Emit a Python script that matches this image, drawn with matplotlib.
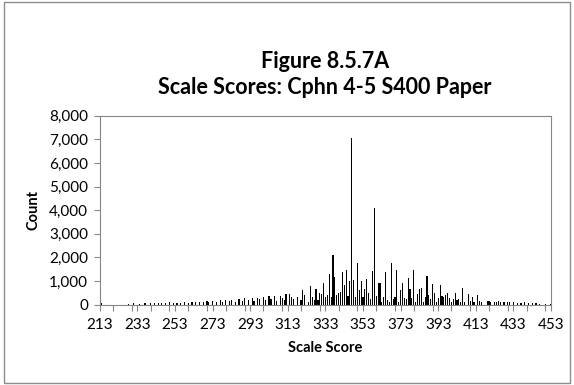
import matplotlib.pyplot as plt
from matplotlib.patches import Rectangle
from matplotlib.ticker import FuncFormatter, MultipleLocator

plt.rcParams['font.family'] = ['Lato', 'DejaVu Sans']

# scale scores with a non-zero count, 10 per row
scores = [213, 214, 228, 231, 234, 237, 240, 242, 244, 246,
          248, 250, 252, 254, 256, 258, 260, 262, 264, 266,
          268, 270, 271, 273, 275, 277, 278, 280, 282, 283,
          285, 287, 289, 290, 292, 294, 295, 297, 298, 300,
          301, 303, 304, 306, 307, 309, 310, 311, 312, 314,
          315, 316, 318, 320, 321, 322, 324, 325, 326, 327,
          328, 329, 330, 331, 332, 333, 334, 335, 336, 337,
          338, 339, 340, 341, 342, 343, 344, 345, 346, 347,
          348, 349, 350, 351, 352, 353, 354, 355, 356, 357,
          358, 359, 360, 361, 362, 363, 364, 365, 366, 367,
          368, 369, 370, 371, 372, 373, 374, 375, 376, 377,
          378, 379, 380, 381, 382, 383, 384, 385, 386, 387,
          388, 389, 390, 391, 392, 393, 394, 395, 396, 397,
          398, 399, 400, 401, 402, 403, 404, 405, 406, 407,
          409, 410, 411, 412, 414, 415, 416, 419, 420, 421,
          423, 424, 425, 426, 428, 430, 431, 433, 435, 437,
          439, 441, 443, 445, 447, 450, 453]
counts = [90, 60, 40, 50, 40, 50, 60, 70, 50, 80,
          70, 90, 60, 80, 70, 100, 80, 110, 90, 120,
          100, 140, 90, 150, 120, 180, 110, 200, 150, 190,
          120, 230, 170, 260, 190, 260, 130, 280, 220, 330,
          200, 360, 240, 380, 170, 360, 290, 200, 450, 430,
          300, 250, 330, 190, 600, 400, 120, 770, 330, 190,
          650, 200, 470, 430, 910, 330, 400, 1300, 330, 2110,
          1160, 400, 510, 540, 1380, 820, 1450, 360, 980, 7050,
          1030, 300, 1770, 610, 980, 330, 640, 1090, 510, 230,
          1420, 4100, 370, 920, 920, 120, 330, 1380, 190, 120,
          1780, 230, 340, 1480, 90, 610, 910, 260, 230, 1140,
          640, 260, 1480, 90, 430, 640, 680, 120, 300, 1200,
          400, 230, 850, 470, 120, 260, 810, 360, 300, 400,
          510, 290, 90, 230, 470, 190, 245, 90, 680, 120,
          450, 150, 330, 120, 410, 160, 90, 170, 160, 90,
          120, 120, 150, 90, 120, 120, 90, 90, 70, 70,
          90, 70, 70, 50, 40, 30, 40]

x_labels = list(range(213, 454, 20))

fig = plt.figure(figsize=(5.74, 3.85), dpi=100)
fig.patches.append(Rectangle((0.007, 0.004), 0.986, 0.99, transform=fig.transFigure,
                             fill=False, edgecolor='#8c8c8c', linewidth=1.0))

ax = fig.add_axes([0.174, 0.209, 0.786, 0.49])
ax.bar(scores, counts, width=0.6, color='black', linewidth=0)

ax.set_xlim(213, 453)
ax.set_ylim(0, 8000)
ax.set_xticks(x_labels)
ax.xaxis.set_minor_locator(MultipleLocator(10))
ax.yaxis.set_major_locator(MultipleLocator(1000))
ax.yaxis.set_major_formatter(FuncFormatter(lambda v, p: f'{int(v):,}'))

for s in ax.spines.values():
    s.set_color('#868686')
ax.tick_params(axis='both', which='both', color='#868686', labelsize=11,
               length=4.5, width=0.8)
ax.tick_params(axis='x', pad=5)
ax.tick_params(axis='y', pad=4)

ax.set_xlabel('Scale Score', fontsize=10.5, fontweight='bold', labelpad=7)
ax.set_ylabel('Count', fontsize=10.5, fontweight='bold', labelpad=6)

fig.text(0.566, 0.84, 'Figure 8.5.7A', ha='center', va='center',
         fontsize=15.5, fontweight='bold')
fig.text(0.566, 0.772, 'Scale Scores: Cphn 4-5 S400 Paper', ha='center',
         va='center', fontsize=15.5, fontweight='bold')

fig.savefig('out.png', dpi=100)
